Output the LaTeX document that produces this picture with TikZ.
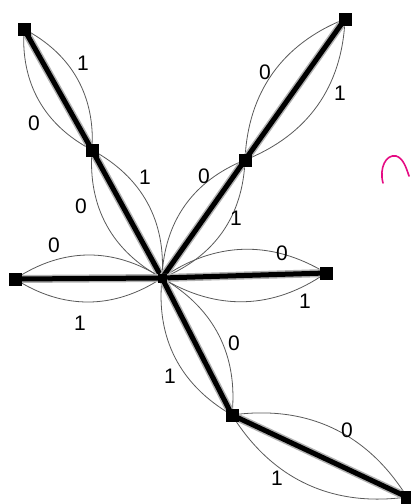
\documentclass[tikz,border=0pt]{standalone}
\usepackage{fontspec}
\setmainfont{Liberation Sans}
\tikzset{
  vtx/.style={draw=none, fill=black, minimum size=13pt, inner sep=0pt, outer sep=0pt,
              preaction={fill=black!35, minimum size=16pt}},
  vtxs/.style={vtx, minimum size=9pt},
  edge/.style={line width=5pt, black, preaction={draw, line width=8pt, black!30}},
  lens/.style={line width=0.8pt, black!65},
  lbl/.style={font=\fontsize{21}{24}\selectfont, inner sep=0pt},
}
\begin{document}
\begin{tikzpicture}[x=1pt,y=-1pt]
\useasboundingbox (0,0) rectangle (411,504);
% vertex positions
\coordinate (tl) at (24,29);
\coordinate (ml) at (92,150);
\coordinate (c) at (162,278);
\coordinate (l) at (15,279);
\coordinate (r) at (326,273);
\coordinate (tr) at (345,19);
\coordinate (mr) at (245,160);
\coordinate (bm) at (232,415);
\coordinate (br) at (407,497);
\foreach \a/\b in {tl/ml, ml/c, c/mr, mr/tr, l/c, c/r, c/bm, bm/br}{
  \draw[lens] (\a) to[bend left=33] (\b);
  \draw[lens] (\a) to[bend right=33] (\b);
}
\foreach \a/\b in {tl/ml, ml/c, c/mr, mr/tr, l/c, c/r, c/bm, bm/br}{
  \draw[edge] (\a) -- (\b);
}
% vertices
\foreach \v in {tl, ml, l, r, tr, mr, bm, br}{
  \node[vtx] (n\v) at (\v) {};
}
\node[vtxs] (nc) at (c) {};
% labels
\node[lbl] (t1) at (83,63) {1};
\node[lbl] (t2) at (34,123) {0};
\node[lbl] (t3) at (145,177) {1};
\node[lbl] (t4) at (81,206) {0};
\node[lbl] (t5) at (204,176) {0};
\node[lbl] (t6) at (236,218) {1};
\node[lbl] (t7) at (265,72) {0};
\node[lbl] (t8) at (340,93) {1};
\node[lbl] (t9) at (54,245) {0};
\node[lbl] (t10) at (80,323) {1};
\node[lbl] (t11) at (282,253) {0};
\node[lbl] (t12) at (305,301) {1};
\node[lbl] (t13) at (234,343) {0};
\node[lbl] (t14) at (170,376) {1};
\node[lbl] (t15) at (347,430) {0};
\node[lbl] (t16) at (277,478) {1};
% pink scribble
\draw[magenta!85!purple, line width=1.6pt, line cap=round]
  (383,183) .. controls (379,168) and (386,154) .. (396,156)
  .. controls (403,158) and (406,167) .. (409,176);
\end{tikzpicture}
\end{document}
